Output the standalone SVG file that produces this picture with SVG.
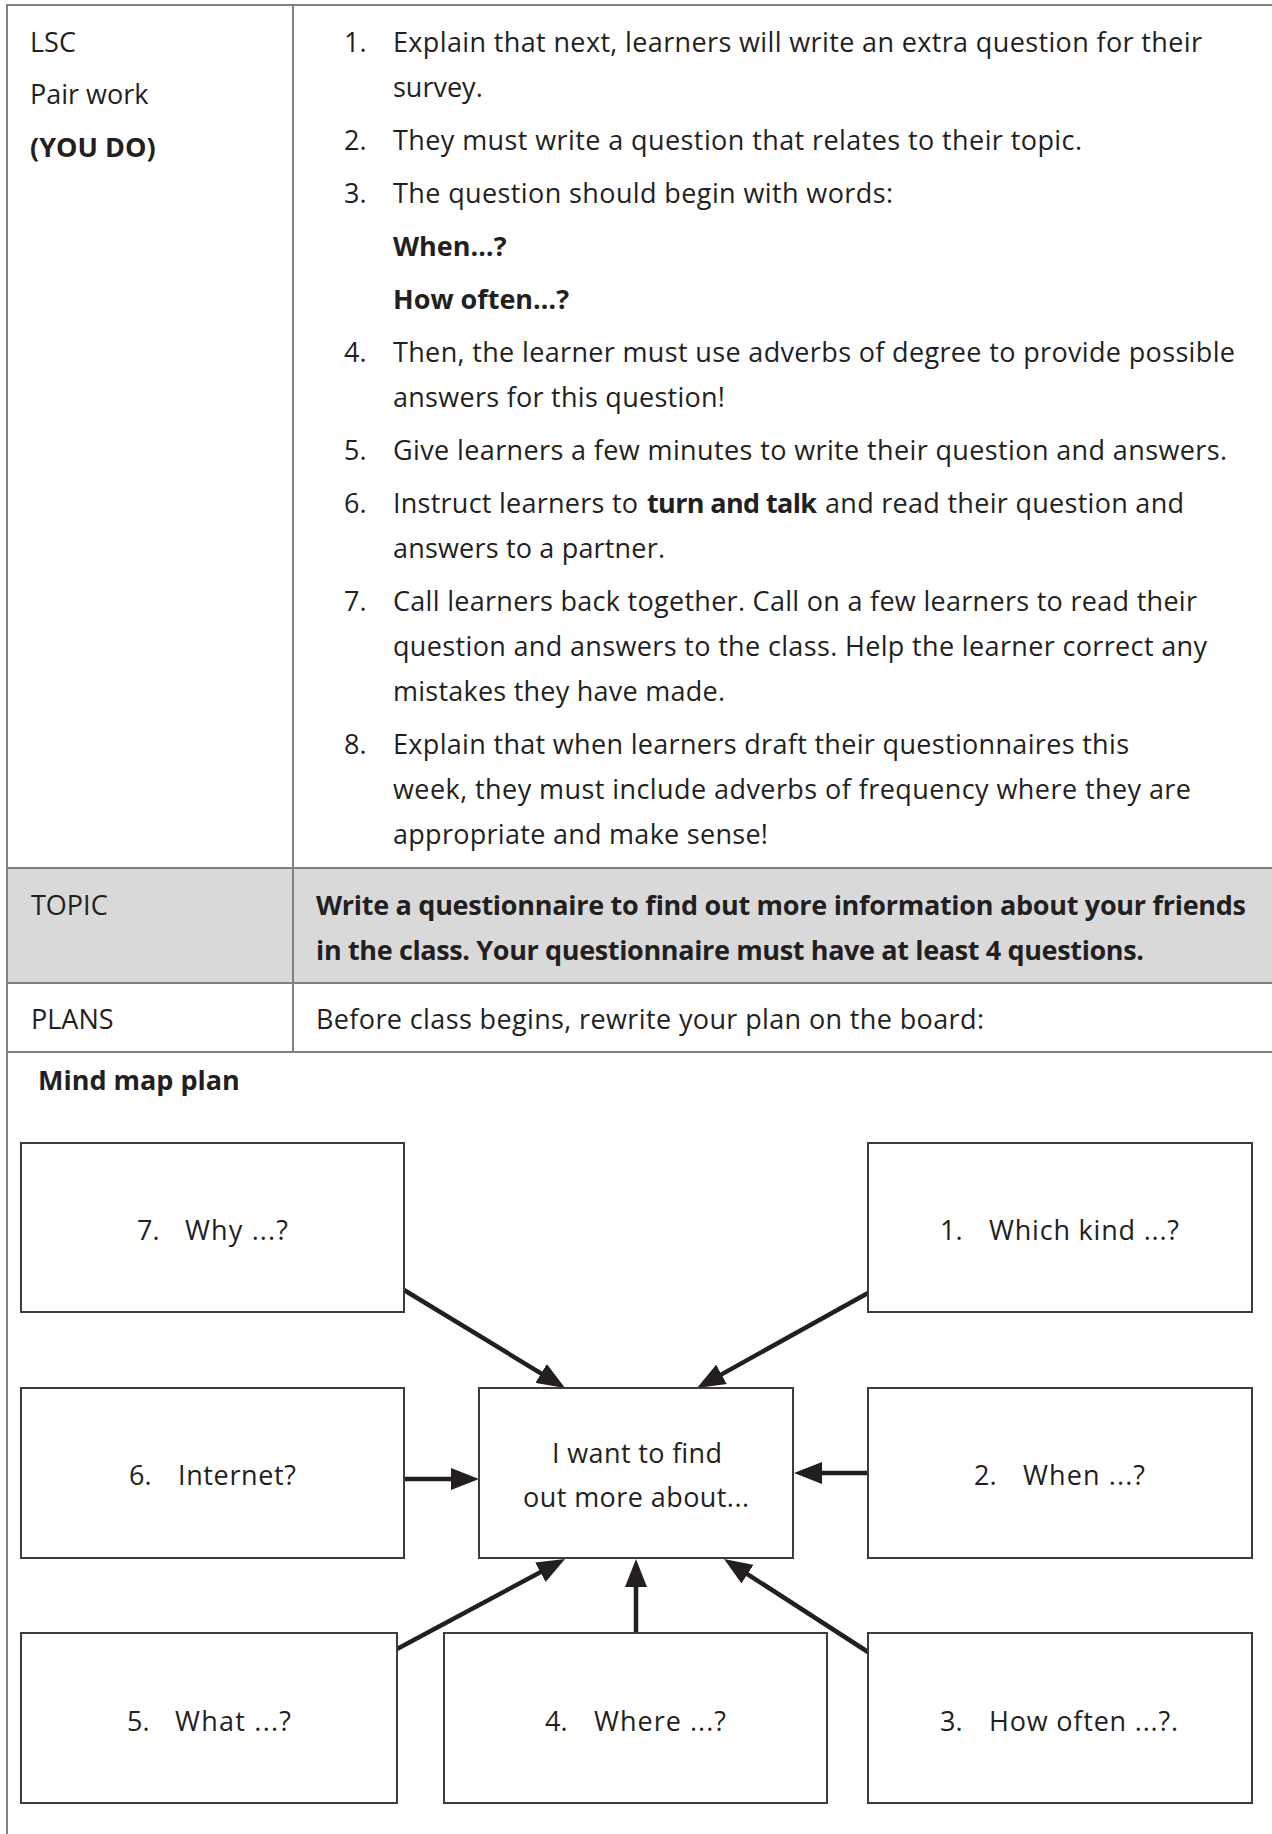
<svg xmlns="http://www.w3.org/2000/svg" width="1272" height="1834" viewBox="0 0 1272 1834">
<defs>
<style>
.t{font-family:'Open Sans','Noto Sans',sans-serif;font-size:27px;fill:#231f20}
.b{font-weight:bold}
.grid{stroke:#808080;stroke-width:2;fill:none}
.box{fill:#ffffff;stroke:#3c3c3c;stroke-width:2}
.con{stroke:#231f20;stroke-width:4.5;fill:none;marker-end:url(#ah)}
</style>
<marker id="ah" markerUnits="userSpaceOnUse" viewBox="0 0 28 22" markerWidth="28" markerHeight="22" refX="20" refY="11" orient="auto">
<path d="M0,0 L28,11 L0,22 z" fill="#231f20"/>
</marker>
</defs>
<rect x="0" y="0" width="1272" height="1834" fill="#ffffff"/>

<g id="table">
<rect x="7" y="868" width="1265" height="115" fill="#d9d9d9"/>
<line class="grid" x1="7" y1="5" x2="1272" y2="5"/>
<line class="grid" x1="7" y1="4" x2="7" y2="1834"/>
<line class="grid" x1="293" y1="5" x2="293" y2="1052"/>
<line class="grid" x1="7" y1="868" x2="1272" y2="868"/>
<line class="grid" x1="7" y1="983" x2="1272" y2="983"/>
<line class="grid" x1="7" y1="1052" x2="1272" y2="1052"/>
</g>

<g id="row-lsc">
<text class="t" x="30" y="52">LSC</text>
<text class="t" x="30" y="104">Pair work</text>
<text class="t b" x="30" y="157">(YOU DO)</text>
<text class="t" x="344" y="52">1.</text>
<text class="t" x="393" y="52" textLength="809">Explain that next, learners will write an extra question for their</text>
<text class="t" x="393" y="97">survey.</text>
<text class="t" x="344" y="150">2.</text>
<text class="t" x="393" y="150" textLength="689">They must write a question that relates to their topic.</text>
<text class="t" x="344" y="203">3.</text>
<text class="t" x="393" y="203" textLength="500">The question should begin with words:</text>
<text class="t b" x="393" y="256">When…?</text>
<text class="t b" x="393" y="309">How often…?</text>
<text class="t" x="344" y="362">4.</text>
<text class="t" x="393" y="362" textLength="842">Then, the learner must use adverbs of degree to provide possible</text>
<text class="t" x="393" y="407" textLength="332">answers for this question!</text>
<text class="t" x="344" y="460">5.</text>
<text class="t" x="393" y="460" textLength="834">Give learners a few minutes to write their question and answers.</text>
<text class="t" x="344" y="513">6.</text>
<text class="t" x="393" y="513" textLength="245">Instruct learners to</text>
<text class="t b" x="647" y="513" textLength="170">turn and talk</text>
<text class="t" x="825" y="513" textLength="359">and read their question and</text>
<text class="t" x="393" y="558" textLength="272">answers to a partner.</text>
<text class="t" x="344" y="611">7.</text>
<text class="t" x="393" y="611" textLength="804">Call learners back together. Call on a few learners to read their</text>
<text class="t" x="393" y="656" textLength="814">question and answers to the class. Help the learner correct any</text>
<text class="t" x="393" y="701" textLength="332">mistakes they have made.</text>
<text class="t" x="344" y="754">8.</text>
<text class="t" x="393" y="754" textLength="736">Explain that when learners draft their questionnaires this</text>
<text class="t" x="393" y="799" textLength="798">week, they must include adverbs of frequency where they are</text>
<text class="t" x="393" y="844" textLength="375">appropriate and make sense!</text>
</g>

<g id="row-topic">
<text class="t" x="31" y="915">TOPIC</text>
<text class="t b" x="316" y="915" textLength="930">Write a questionnaire to find out more information about your friends</text>
<text class="t b" x="316" y="960" textLength="828">in the class. Your questionnaire must have at least 4 questions.</text>
</g>

<g id="row-plans">
<text class="t" x="31" y="1029">PLANS</text>
<text class="t" x="316" y="1029" textLength="668">Before class begins, rewrite your plan on the board:</text>
</g>

<text class="t b" x="38" y="1090">Mind map plan</text>

<g id="connectors">
<line class="con" x1="404" y1="1479" x2="471" y2="1479"/>
<line class="con" x1="868" y1="1473" x2="802" y2="1473"/>
<line class="con" x1="404" y1="1290" x2="558.2" y2="1383.8"/>
<line class="con" x1="868" y1="1293" x2="704" y2="1384.1"/>
<line class="con" x1="397" y1="1649" x2="558" y2="1562.8"/>
<line class="con" x1="636" y1="1633" x2="636" y2="1567"/>
<line class="con" x1="868" y1="1652" x2="730.7" y2="1563.3"/>
</g>

<g id="node-7">
<rect class="box" x="21" y="1143" width="383" height="169"/>
<text class="t" y="1240"><tspan x="137">7.</tspan><tspan x="185" textLength="103">Why ...?</tspan></text>
</g>
<g id="node-1">
<rect class="box" x="868" y="1143" width="384" height="169"/>
<text class="t" y="1240"><tspan x="940">1.</tspan><tspan x="989" textLength="190">Which kind ...?</tspan></text>
</g>
<g id="node-6">
<rect class="box" x="21" y="1388" width="383" height="170"/>
<text class="t" y="1485"><tspan x="129">6.</tspan><tspan x="178" textLength="118">Internet?</tspan></text>
</g>
<g id="node-center">
<rect class="box" x="479" y="1388" width="314" height="170"/>
<text class="t" x="552" y="1463" textLength="170">I want to find</text>
<text class="t" x="523" y="1507" textLength="226">out more about...</text>
</g>
<g id="node-2">
<rect class="box" x="868" y="1388" width="384" height="170"/>
<text class="t" y="1485"><tspan x="974">2.</tspan><tspan x="1023" textLength="122">When ...?</tspan></text>
</g>
<g id="node-5">
<rect class="box" x="21" y="1633" width="376" height="170"/>
<text class="t" y="1731"><tspan x="127">5.</tspan><tspan x="175" textLength="116">What ...?</tspan></text>
</g>
<g id="node-4">
<rect class="box" x="444" y="1633" width="383" height="170"/>
<text class="t" y="1731"><tspan x="545">4.</tspan><tspan x="594" textLength="132">Where ...?</tspan></text>
</g>
<g id="node-3">
<rect class="box" x="868" y="1633" width="384" height="170"/>
<text class="t" y="1731"><tspan x="940">3.</tspan><tspan x="989" textLength="189">How often ...?.</tspan></text>
</g>
</svg>
